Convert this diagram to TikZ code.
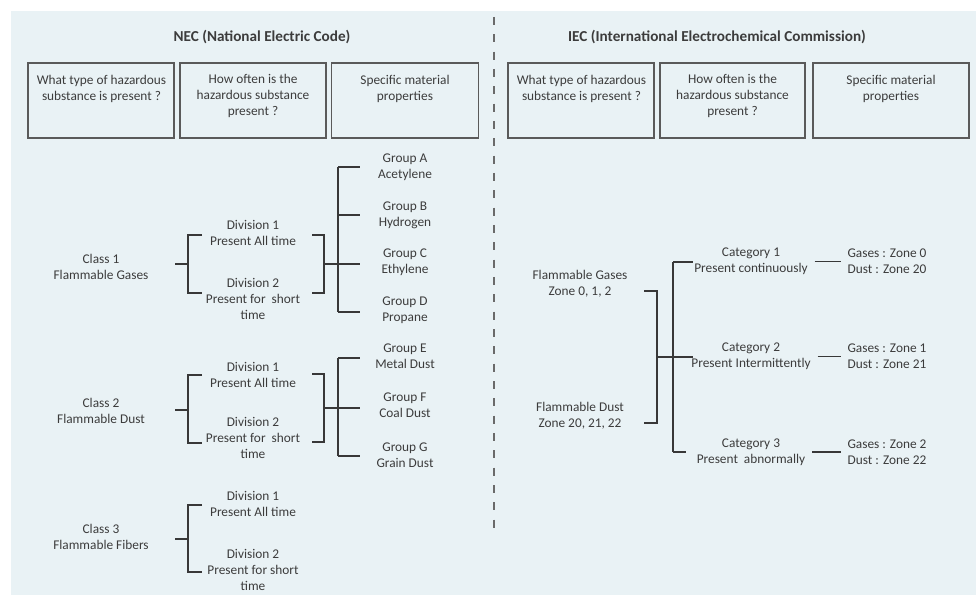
\documentclass[tikz,border=0pt]{standalone}
\usepackage{fontspec}
\setmainfont{Carlito}
\definecolor{bgc}{HTML}{E9F2F5}
\definecolor{txt}{HTML}{3C3C3C}
\definecolor{ln}{HTML}{383838}
\definecolor{bx}{HTML}{5A5A5A}
\definecolor{dv}{HTML}{6A6A6A}
\begin{document}
\begin{tikzpicture}[x=0.75pt,y=-0.75pt,
  every node/.style={text=txt},
  lbl/.style={align=center,font=\fontsize{10}{12}\selectfont,inner sep=0pt},
  catlbl/.style={align=center,font=\fontsize{10}{12}\selectfont,inner sep=5pt},
  ttl/.style={font=\fontsize{11.4}{13.5}\selectfont\bfseries,inner sep=0pt},
  hbox/.style={draw=bx,line width=0.9pt,minimum height=56.25pt,inner sep=0pt},
  conn/.style={draw=ln,line width=1.1pt},
  divider/.style={draw=dv,line width=0.9pt,dash pattern=on 6pt off 7pt}]
\useasboundingbox (0,0) rectangle (978,595);
\fill[bgc] (11,11) rectangle (976,595);

% titles
\node[ttl] (nec) at (262,37) {NEC (National Electric Code)};
\node[ttl] (iec) at (717,37) {IEC (International Electrochemical Commission)};

% divider
\coordinate (dtop) at (494,17);
\coordinate (dbot) at (494,533);
\draw[divider] (dtop) -- (dbot);

% header boxes (left)
\node[hbox,minimum width=109.5pt] (lb1) at (101,100.5) {};
\node[hbox,minimum width=109.5pt] (lb2) at (253,100.5) {};
\node[hbox,minimum width=110pt] (lb3) at (405,100.5) {};
\node[lbl] (lt1) at (101.5,88.5) {What type of hazardous\\substance is present ?};
\node[lbl] (lt2) at (253,96) {How often is the\\hazardous substance\\present ?};
\node[lbl] (lt3) at (405,88.5) {Specific material\\properties};

% header boxes (right)
\node[hbox,minimum width=109.5pt] (rb1) at (581,100.5) {};
\node[hbox,minimum width=108.75pt] (rb2) at (732.5,100.5) {};
\node[hbox,minimum width=117pt] (rb3) at (891,100.5) {};
\node[lbl] (rt1) at (581.5,88.5) {What type of hazardous\\substance is present ?};
\node[lbl] (rt2) at (732.5,96) {How often is the\\hazardous substance\\present ?};
\node[lbl] (rt3) at (891,88.5) {Specific material\\properties};

% ---------------- NEC tree 1
\node[lbl] (c1) at (101,267) {Class 1\\Flammable Gases};
\node[lbl] (d11) at (253,233) {Division 1\\Present All time};
\node[lbl] (d12) at (253,298.5) {Division 2\\Present for\ \ short\\time};
\node[lbl] (gA) at (405,167) {Group A\\Acetylene};
\node[lbl] (gB) at (405,215) {Group B\\Hydrogen};
\node[lbl] (gC) at (405,262) {Group C\\Ethylene};
\node[lbl] (gD) at (405,310) {Group D\\Propane};
\coordinate (s1) at (175,264); \coordinate (s1j) at (188,264);
\coordinate (s1t) at (202,235); \coordinate (s1b) at (202,293);
\coordinate (r1t) at (312,235); \coordinate (r1b) at (312,293);
\coordinate (r1j) at (324,264); \coordinate (g1j) at (338,264);
\coordinate (g1t) at (338,167); \coordinate (g1b) at (338,312);
\coordinate (g1x) at (360,0);
\draw[conn] (s1) -- (s1j);
\draw[conn] (s1t) -- (s1t -| s1j) -- (s1b -| s1j) -- (s1b);
\draw[conn] (r1t) -- (r1t -| r1j) -- (r1b -| r1j) -- (r1b);
\draw[conn] (r1j) -- (g1j);
\draw[conn] (g1t) -- (g1b);
\draw[conn] (g1t) -- (g1t -| g1x);
\draw[conn] (g1t |- gB) -- (g1x |- gB);
\draw[conn] (g1j) -- (g1j -| g1x);
\draw[conn] (g1b) -- (g1b -| g1x);

% ---------------- NEC tree 2
\node[lbl] (c2) at (101,410.5) {Class 2\\Flammable Dust};
\node[lbl] (d21) at (253,375) {Division 1\\Present All time};
\node[lbl] (d22) at (253,437.5) {Division 2\\Present for\ \ short\\time};
\node[lbl] (gE) at (405,356) {Group E\\Metal Dust};
\node[lbl] (gF) at (405,405.5) {Group F\\Coal Dust};
\node[lbl] (gG) at (405,455) {Group G\\Grain Dust};
\coordinate (s2) at (175,410); \coordinate (s2j) at (188,410);
\coordinate (s2t) at (202,375); \coordinate (s2b) at (202,443);
\coordinate (r2t) at (312,374); \coordinate (r2b) at (312,442);
\coordinate (r2j) at (324,408); \coordinate (g2j) at (338,408);
\coordinate (g2t) at (338,358); \coordinate (g2b) at (338,456);
\coordinate (g2x) at (360,0);
\draw[conn] (s2) -- (s2j);
\draw[conn] (s2t) -- (s2t -| s2j) -- (s2b -| s2j) -- (s2b);
\draw[conn] (r2t) -- (r2t -| r2j) -- (r2b -| r2j) -- (r2b);
\draw[conn] (r2j) -- (g2j);
\draw[conn] (g2t) -- (g2b);
\draw[conn] (g2t) -- (g2t -| g2x);
\draw[conn] (g2j) -- (g2j -| g2x);
\draw[conn] (g2b) -- (g2b -| g2x);

% ---------------- NEC tree 3
\node[lbl] (c3) at (101,536.5) {Class 3\\Flammable Fibers};
\node[lbl] (d31) at (253,504) {Division 1\\Present All time};
\node[lbl] (d32) at (253,569.5) {Division 2\\Present for short\\time};
\coordinate (s3) at (175,539); \coordinate (s3j) at (188,539);
\coordinate (s3t) at (202,505); \coordinate (s3b) at (202,572);
\draw[conn] (s3) -- (s3j);
\draw[conn] (s3t) -- (s3t -| s3j) -- (s3b -| s3j) -- (s3b);

% ---------------- IEC tree
\node[lbl] (fg) at (580,283.5) {Flammable Gases\\Zone 0, 1, 2};
\node[lbl] (fd) at (580,416) {Flammable Dust\\Zone 20, 21, 22};
\node[catlbl] (k1) at (751,261.5) {Category 1\\Present continuously};
\node[catlbl] (k2) at (751,356.5) {Category 2\\Present Intermittently};
\node[catlbl] (k3) at (751,452) {Category 3\\Present\ \ abnormally};
\node[catlbl] (z1) at (887,261.5) {Gases : Zone 0\\Dust : Zone 20};
\node[catlbl] (z2) at (887,356.5) {Gases : Zone 1\\Dust : Zone 21};
\node[catlbl] (z3) at (887,452) {Gases : Zone 2\\Dust : Zone 22};
\coordinate (ft) at (644,291); \coordinate (fb) at (644,423);
\coordinate (fj) at (657,357); \coordinate (kj) at (673,357);
\coordinate (kt) at (673,262); \coordinate (kb) at (673,452);
\coordinate (kx) at (693,0); \coordinate (kx3) at (686,0);
\draw[conn] (ft) -- (ft -| fj) -- (fb -| fj) -- (fb);
\draw[conn] (fj) -- (kj -| kx);
\draw[conn] (kt) -- (kb);
\draw[conn] (kt) -- (kt -| kx);
\draw[conn] (kb) -- (kb -| kx3);
\draw[conn] (k1.east) -- (k1.east -| z1.west);
\draw[conn] (k2.east) -- (k2.east -| z2.west);
\draw[conn] (k3.east) -- (k3.east -| z3.west);
\end{tikzpicture}
\end{document}
